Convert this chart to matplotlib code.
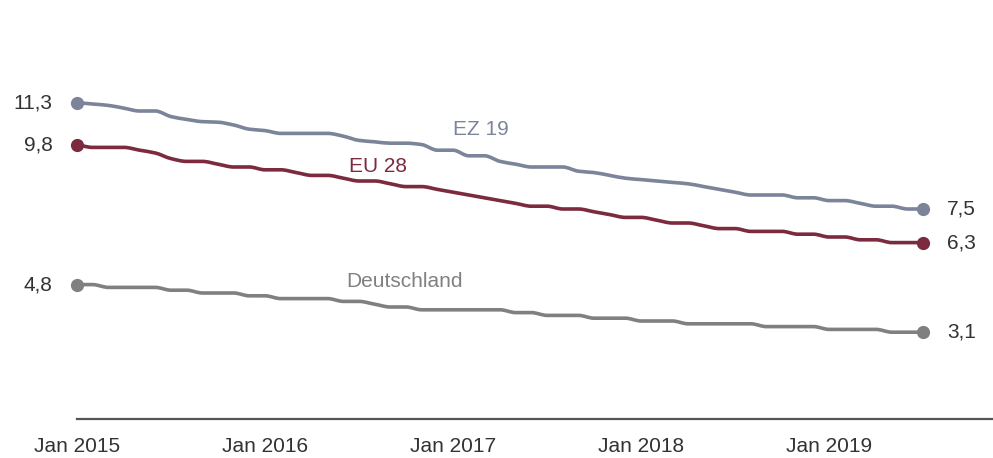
import numpy as np
import matplotlib.pyplot as plt
from matplotlib.path import Path
from matplotlib.patches import PathPatch

# monthly unemployment rate, Jan 2015 - Jul 2019
ez19 = [11.3, 11.25, 11.2, 11.1, 11.0, 11.0, 10.8, 10.7, 10.62, 10.6, 10.5, 10.35,
        10.3, 10.2, 10.2, 10.2, 10.2, 10.1, 9.95, 9.9, 9.85, 9.85, 9.8, 9.6,
        9.6, 9.4, 9.4, 9.2, 9.1, 9.0, 9.0, 9.0, 8.85, 8.8, 8.7, 8.6,
        8.55, 8.5, 8.45, 8.4, 8.3, 8.2, 8.1, 8.0, 8.0, 8.0, 7.9, 7.9,
        7.8, 7.8, 7.7, 7.6, 7.6, 7.5, 7.5]
eu28 = [9.8, 9.7, 9.7, 9.7, 9.6, 9.5, 9.3, 9.2, 9.2, 9.1, 9.0, 9.0,
        8.9, 8.9, 8.8, 8.7, 8.7, 8.6, 8.5, 8.5, 8.4, 8.3, 8.3, 8.2,
        8.1, 8.0, 7.9, 7.8, 7.7, 7.6, 7.6, 7.5, 7.5, 7.4, 7.3, 7.2,
        7.2, 7.1, 7.0, 7.0, 6.9, 6.8, 6.8, 6.7, 6.7, 6.7, 6.6, 6.6,
        6.5, 6.5, 6.4, 6.4, 6.3, 6.3, 6.3]
de = [4.8, 4.8, 4.7, 4.7, 4.7, 4.7, 4.6, 4.6, 4.5, 4.5, 4.5, 4.4,
      4.4, 4.3, 4.3, 4.3, 4.3, 4.2, 4.2, 4.1, 4.0, 4.0, 3.9, 3.9,
      3.9, 3.9, 3.9, 3.9, 3.8, 3.8, 3.7, 3.7, 3.7, 3.6, 3.6, 3.6,
      3.5, 3.5, 3.5, 3.4, 3.4, 3.4, 3.4, 3.4, 3.3, 3.3, 3.3, 3.3,
      3.2, 3.2, 3.2, 3.2, 3.1, 3.1, 3.1]
start_labels = ["11,3", "9,8", "4,8"]
end_labels = ["7,5", "6,3", "3,1"]
names = ["EZ 19", "EU 28", "Deutschland"]
tick_pos = [0, 12, 24, 36, 48]
tick_labels = ["Jan 2015", "Jan 2016", "Jan 2017", "Jan 2018", "Jan 2019"]

colors = ["#7b8499", "#7c2a3e", "#808080"]
plt.rcParams['font.family'] = ['Liberation Sans', 'DejaVu Sans']


def smooth_path(x, y):
    # monotone cubic curve through the points (bezier segments)
    x = np.asarray(x, float)
    y = np.asarray(y, float)
    d = np.diff(y) / np.diff(x)
    m = np.zeros_like(y)
    m[0], m[-1] = d[0], d[-1]
    for i in range(1, len(y) - 1):
        if d[i - 1] * d[i] > 0:
            m[i] = 2 / (1 / d[i - 1] + 1 / d[i])
    verts = [(x[0], y[0])]
    codes = [Path.MOVETO]
    for i in range(len(x) - 1):
        h = x[i + 1] - x[i]
        verts += [(x[i] + h / 3, y[i] + m[i] * h / 3),
                  (x[i + 1] - h / 3, y[i + 1] - m[i + 1] * h / 3),
                  (x[i + 1], y[i + 1])]
        codes += [Path.CURVE4] * 3
    return Path(verts, codes)


fig = plt.figure(figsize=(9.93, 4.58), dpi=100)
ax = fig.add_axes([77 / 993, 39 / 458, 916 / 993, 419 / 458])

x = np.arange(len(ez19))
series = [ez19, eu28, de]
for s, c, sl, el in zip(series, colors, start_labels, end_labels):
    ax.add_patch(PathPatch(smooth_path(x, s), fill=False, edgecolor=c, lw=2.6,
                           joinstyle='round', capstyle='round'))
    ax.plot([x[0], x[-1]], [s[0], s[-1]], 'o', color=c, ms=8.5, clip_on=False)
    ax.annotate(sl, (x[0], s[0]), xytext=(-17.5, 0), textcoords='offset points',
                ha='right', va='center', fontsize=15, color='#333333')
    ax.annotate(el, (x[-1], s[-1]), xytext=(17, 0), textcoords='offset points',
                ha='left', va='center', fontsize=15, color='#333333')

ax.text(25.8, 10.35, names[0], color=colors[0], fontsize=15, ha='center', va='center')
ax.text(19.2, 9.0, names[1], color=colors[1], fontsize=15, ha='center', va='center')
ax.text(20.9, 4.9, names[2], color=colors[2], fontsize=15, ha='center', va='center')

ax.set_xlim(0, 916 / 15.67)
ax.set_ylim(0, 419 / 28)
ax.set_xticks(tick_pos)
ax.set_xticklabels(tick_labels, fontsize=15, color='#333333')
ax.tick_params(axis='x', length=0, pad=13)
ax.set_yticks([])
for side in ['top', 'right', 'left']:
    ax.spines[side].set_visible(False)
ax.spines['bottom'].set_color('#555555')
ax.spines['bottom'].set_linewidth(1.6)
ax.patch.set_visible(False)

fig.savefig("out.png", dpi=100)
